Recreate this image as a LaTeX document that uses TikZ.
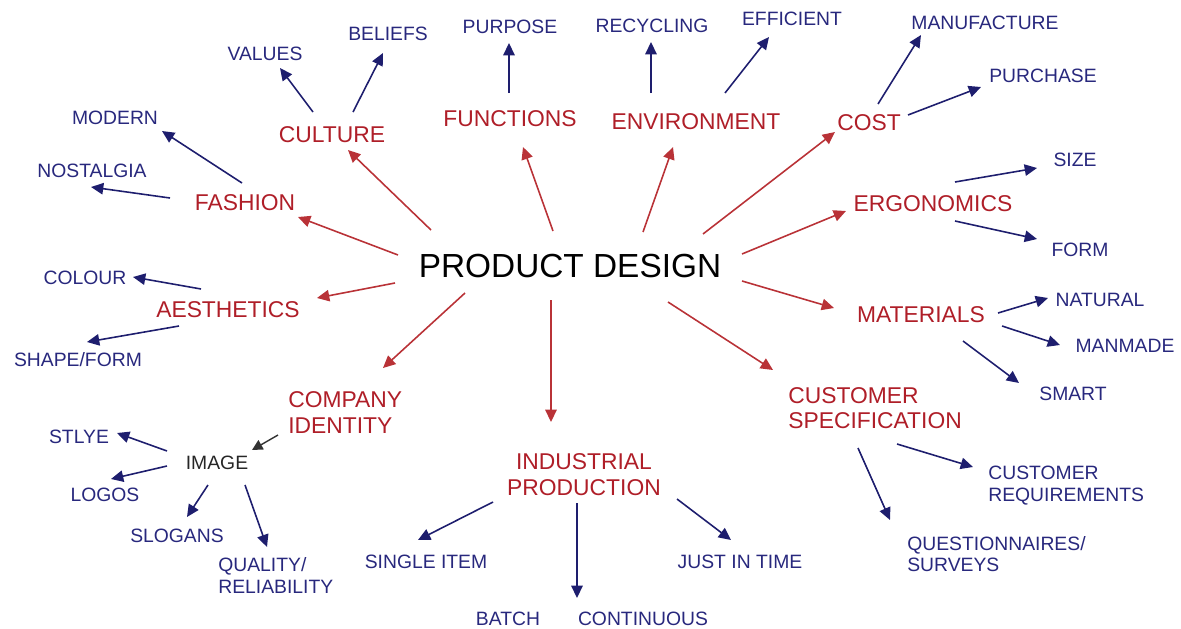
\documentclass[tikz,border=0pt]{standalone}
\usepackage{fontspec}
\setmainfont{Liberation Sans}
\usetikzlibrary{arrows.meta}

\definecolor{redtxt}{RGB}{175,30,40}
\definecolor{redline}{RGB}{185,50,55}
\definecolor{bluetxt}{RGB}{40,40,125}
\definecolor{blueline}{RGB}{30,30,110}

\tikzset{
  main/.style={font=\fontsize{19}{23}\selectfont, text=black, inner sep=0pt},
  topic/.style={font=\fontsize{13}{14.5}\selectfont, text=redtxt, inner sep=0pt},
  idea/.style={font=\fontsize{11}{12.3}\selectfont, text=bluetxt, inner sep=0pt},
  redarrow/.style={draw=redline, line width=0.9pt, -{Triangle[length=7pt,width=6.5pt]}},
  bluearrow/.style={draw=blueline, line width=0.9pt, -{Triangle[length=7pt,width=6.5pt]}},
  blackarrow/.style={draw=black!80, line width=0.8pt, -{Triangle[length=6pt,width=6pt]}}
}

\begin{document}
\begin{tikzpicture}[x=0.02cm, y=-0.02cm]
\useasboundingbox (0,0) rectangle (1181,629);

% centre
\node[main] (pd) at (570,266) {PRODUCT DESIGN};

% main topics
\node[topic] (culture) at (332,135) {CULTURE};
\node[topic] (functions) at (510,119) {FUNCTIONS};
\node[topic] (environ) at (696,122) {ENVIRONMENT};
\node[topic] (cost) at (869,123) {COST};
\node[topic] (fashion) at (245,203) {FASHION};
\node[topic] (ergo) at (933,204) {ERGONOMICS};
\node[topic] (aesth) at (228,310) {AESTHETICS};
\node[topic] (mater) at (921,315) {MATERIALS};
\node[topic, anchor=west, align=left] (company) at (288,412.5) {COMPANY\\IDENTITY};
\node[topic, align=center] (indus) at (584,474.5) {INDUSTRIAL\\PRODUCTION};
\node[topic, anchor=west, align=left] (custspec) at (788,408) {CUSTOMER\\SPECIFICATION};
\node[idea, text=black!85] (image) at (217,463) {IMAGE};

% sub ideas
\node[idea] (values) at (265,54) {VALUES};
\node[idea] (beliefs) at (388,34) {BELIEFS};
\node[idea] (purpose) at (510,27) {PURPOSE};
\node[idea] (recyc) at (652,26) {RECYCLING};
\node[idea] (effic) at (792,19) {EFFICIENT};
\node[idea] (manuf) at (985,23) {MANUFACTURE};
\node[idea] (purch) at (1043,76) {PURCHASE};
\node[idea] (modern) at (115,118) {MODERN};
\node[idea] (nostal) at (92,171) {NOSTALGIA};
\node[idea] (size) at (1075,160) {SIZE};
\node[idea] (form) at (1080,250) {FORM};
\node[idea] (colour) at (85,278) {COLOUR};
\node[idea] (shape) at (78,360) {SHAPE/FORM};
\node[idea] (natural) at (1100,300) {NATURAL};
\node[idea] (manmade) at (1125,346) {MANMADE};
\node[idea] (smart) at (1073,394) {SMART};
\node[idea] (stlye) at (79,437) {STLYE};
\node[idea] (logos) at (105,495) {LOGOS};
\node[idea] (slogans) at (177,536) {SLOGANS};
\node[idea, anchor=west, align=left] (quality) at (218,575.5) {QUALITY/\\RELIABILITY};
\node[idea] (single) at (426,562) {SINGLE ITEM};
\node[idea] (batch) at (508,619) {BATCH};
\node[idea] (contin) at (643,619) {CONTINUOUS};
\node[idea] (jit) at (740,562) {JUST IN TIME};
\node[idea, anchor=west, align=left] (custreq) at (988,485.5) {CUSTOMER\\REQUIREMENTS};
\node[idea, anchor=west, align=left] (quest) at (907,554) {QUESTIONNAIRES/\\SURVEYS};

% red arrows from the centre
\draw[redarrow] ([shift={(-139,-36)}]pd.center) -- ([shift={(16,15)}]culture.center);
\draw[redarrow] ([shift={(-17,-35)}]pd.center) -- ([shift={(13,28)}]functions.center);
\draw[redarrow] ([shift={(73,-34)}]pd.center) -- ([shift={(-23,25)}]environ.center);
\draw[redarrow] ([shift={(133,-32)}]pd.center) -- ([shift={(-34,9)}]cost.center);
\draw[redarrow] ([shift={(-172,-11)}]pd.center) -- ([shift={(53,14)}]fashion.center);
\draw[redarrow] ([shift={(172,-12)}]pd.center) -- ([shift={(-87,7)}]ergo.center);
\draw[redarrow] ([shift={(-175,17)}]pd.center) -- ([shift={(89,-12)}]aesth.center);
\draw[redarrow] ([shift={(172,15)}]pd.center) -- ([shift={(-87,-7)}]mater.center);
\draw[redarrow] ([shift={(-105,27)}]pd.center) -- ([shift={(95,-44.5)}]company.west);
\draw[redarrow] ([shift={(-19,34)}]pd.center) -- ([shift={(-33,-52.5)}]indus.center);
\draw[redarrow] ([shift={(98,36)}]pd.center) -- ([shift={(-15,-38)}]custspec.west);

% blue arrows
\draw[bluearrow] ([shift={(-19,-23)}]culture.center) -- ([shift={(15,14)}]values.center);
\draw[bluearrow] ([shift={(21,-23)}]culture.center) -- ([shift={(-5,19)}]beliefs.center);
\draw[bluearrow] ([shift={(-1,-26)}]functions.center) -- ([shift={(-1,16)}]purpose.center);
\draw[bluearrow] ([shift={(-45,-29)}]environ.center) -- ([shift={(-1,16)}]recyc.center);
\draw[bluearrow] ([shift={(29,-29)}]environ.center) -- ([shift={(-23,18)}]effic.center);
\draw[bluearrow] ([shift={(9,-19)}]cost.center) -- ([shift={(-64,12)}]manuf.center);
\draw[bluearrow] ([shift={(39,-8)}]cost.center) -- ([shift={(-62,11)}]purch.center);
\draw[bluearrow] ([shift={(-3,-20)}]fashion.center) -- ([shift={(47,13)}]modern.center);
\draw[bluearrow] ([shift={(-75,-5)}]fashion.center) -- ([shift={(-1,16)}]nostal.center);
\draw[bluearrow] ([shift={(22,-22)}]ergo.center) -- ([shift={(-38,8)}]size.center);
\draw[bluearrow] ([shift={(22,17)}]ergo.center) -- ([shift={(-43,-11)}]form.center);
\draw[bluearrow] ([shift={(-27,-21)}]aesth.center) -- ([shift={(48,-1)}]colour.center);
\draw[bluearrow] ([shift={(-49,16)}]aesth.center) -- ([shift={(9,-18)}]shape.center);
\draw[bluearrow] ([shift={(77,-2)}]mater.center) -- ([shift={(-52,-2)}]natural.center);
\draw[bluearrow] ([shift={(81,11)}]mater.center) -- ([shift={(-65,-1)}]manmade.center);
\draw[bluearrow] ([shift={(42,26)}]mater.center) -- ([shift={(-54,-11)}]smart.center);
\draw[blackarrow] ([shift={(-10,22.5)}]company.west) -- ([shift={(35,-13)}]image.center);
\draw[bluearrow] ([shift={(-50,-12)}]image.center) -- ([shift={(38,-4)}]stlye.center);
\draw[bluearrow] ([shift={(-50,3)}]image.center) -- ([shift={(6,-16)}]logos.center);
\draw[bluearrow] ([shift={(-9,22)}]image.center) -- ([shift={(10,-19)}]slogans.center);
\draw[bluearrow] ([shift={(28,22)}]image.center) -- ([shift={(49,-28.5)}]quality.west);
\draw[bluearrow] ([shift={(-91,27.5)}]indus.center) -- ([shift={(-8,-22)}]single.center);
\draw[bluearrow] ([shift={(-7,28.5)}]indus.center) -- ([shift={(-66,-21)}]contin.center);
\draw[bluearrow] ([shift={(93,24.5)}]indus.center) -- ([shift={(-9,-22)}]jit.center);
\draw[bluearrow] ([shift={(109,36)}]custspec.west) -- ([shift={(-15,-18.5)}]custreq.west);
\draw[bluearrow] ([shift={(70,40)}]custspec.west) -- ([shift={(-17,-34)}]quest.west);
\end{tikzpicture}
\end{document}
